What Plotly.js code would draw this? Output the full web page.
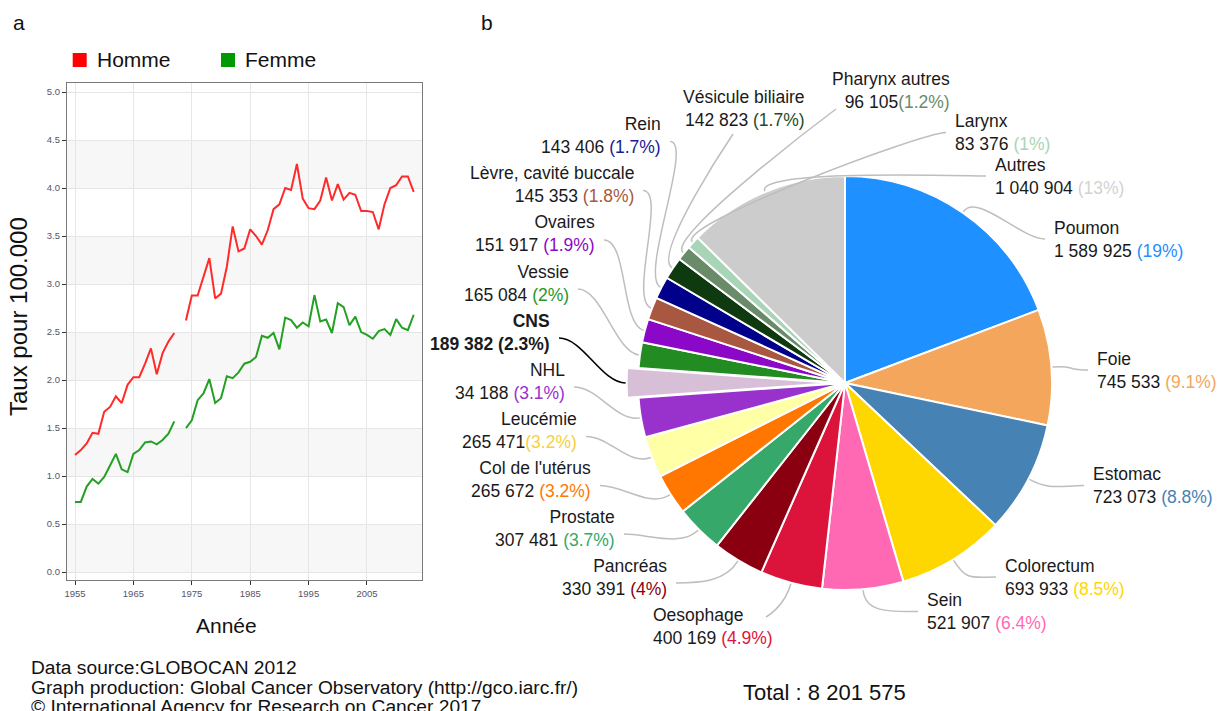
<!DOCTYPE html>
<html>
<head>
<meta charset="utf-8">
<script src="https://cdn.plot.ly/plotly-3.0.1.min.js"></script>
<style>html,body{margin:0;padding:0;background:#fff;}#chart{width:1219px;height:711px;}</style>
</head>
<body>
<div id="chart"></div>
<script>
// ---------------- DATA ----------------
const years = [1955,1956,1957,1958,1959,1960,1961,1962,1963,1964,1965,1966,1967,1968,1969,1970,1971,1972,1973,1974,1975,1976,1977,1978,1979,1980,1981,1982,1983,1984,1985,1986,1987,1988,1989,1990,1991,1992,1993,1994,1995,1996,1997,1998,1999,2000,2001,2002,2003,2004,2005,2006,2007,2008,2009,2010,2011,2012,2013];
const homme = [1.22,1.27,1.34,1.45,1.44,1.67,1.72,1.83,1.76,1.95,2.03,2.03,2.17,2.33,2.06,2.28,2.40,2.49,null,2.62,2.88,2.88,3.08,3.27,2.85,2.90,3.18,3.60,3.34,3.37,3.57,3.50,3.41,3.56,3.78,3.83,4.00,3.98,4.25,3.89,3.79,3.78,3.87,4.11,3.87,4.04,3.88,3.95,3.93,3.76,3.76,3.75,3.57,3.83,4.00,4.03,4.12,4.12,3.96];
const femme = [0.73,0.73,0.89,0.97,0.92,0.99,1.11,1.23,1.07,1.04,1.23,1.27,1.35,1.36,1.33,1.375,1.44,1.57,null,1.50,1.58,1.79,1.86,2.01,1.76,1.81,2.04,2.02,2.08,2.17,2.19,2.24,2.46,2.44,2.49,2.32,2.65,2.625,2.545,2.60,2.56,2.885,2.61,2.63,2.49,2.80,2.76,2.57,2.66,2.50,2.47,2.43,2.51,2.53,2.47,2.635,2.545,2.52,2.68];
const yTicks = [0,0.5,1,1.5,2,2.5,3,3.5,4,4.5,5];
const xTicks = [1955,1965,1975,1985,1995,2005];
const seriesNames = ['Homme','Femme'];

const sites = ['Poumon','Foie','Estomac','Colorectum','Sein','Oesophage','Pancréas','Prostate',"Col de l'utérus",'Leucémie','NHL','CNS','Vessie','Ovaires','Lèvre, cavité buccale','Rein','Vésicule biliaire','Pharynx autres','Larynx','Autres'];
// NHL count printed as "34 188" in the source; slice sized from its 3.1 % share
const counts = [1589925,745533,723073,693933,521907,400169,330391,307481,265672,265471,254188,189382,165084,151917,145353,143406,142823,96105,83376,1040904];
const countText = ['1 589 925','745 533','723 073','693 933','521 907','400 169','330 391','307 481','265 672','265 471','34 188','189 382','165 084','151 917','145 353','143 406','142 823','96 105','83 376','1 040 904'];
const pctText = ['(19%)','(9.1%)','(8.8%)','(8.5%)','(6.4%)','(4.9%)','(4%)','(3.7%)','(3.2%)','(3.2%)','(3.1%)','(2.3%)','(2%)','(1.9%)','(1.8%)','(1.7%)','(1.7%)','(1.2%)','(1%)','(13%)'];
const pctSpace = [' ',' ',' ',' ',' ',' ',' ',' ',' ','',' ',' ',' ',' ',' ',' ',' ','',' ',' '];
const totalText = 'Total : 8 201 575';
const highlighted = 'CNS';

// ---------------- STYLE ----------------
const W = 1219, H = 711;
const FONT = 'Liberation Sans, Arial, Helvetica, sans-serif';
const sliceColors = ['#1E90FF','#F4A65C','#4682B4','#FFD700','#FF69B4','#DC143C','#8B0010','#36A86A','#FF7700','#FFFFA6','#9932CC','#D8BFD8','#228B22','#8B08C8','#A85840','#00008B','#0F3A0F','#6A8B6A','#A8D5B8','#CCCCCC'];
const pctColors = ['#1E90FF','#F4A65C','#4682B4','#FFD700','#FF69B4','#DC143C','#8B0010','#36A86A','#FF7700','#F5D040','#9932CC','#111111','#2A962A','#8B08C8','#A85840','#1A1A99','#1E4D1E','#6A8B6A','#A8D5B8','#D3D3D3'];
// label anchor positions in pixels (edge x, block centre y, side of the pie)
const labelPos = [
  {x:1052,y:239,s:'L'},{x:1095,y:370,s:'L'},{x:1091,y:485.5,s:'L'},{x:1003,y:577,s:'L'},
  {x:925,y:611.5,s:'L'},{x:651,y:626,s:'L',end:[766,617]},{x:669,y:577,s:'R'},{x:617,y:528,s:'R'},
  {x:593,y:479.5,s:'R'},{x:579,y:430.5,s:'R'},{x:567,y:381,s:'R'},{x:552,y:332,s:'R'},
  {x:571,y:283,s:'R'},{x:597,y:234,s:'R'},{x:636,y:184.5,s:'R'},{x:663,y:135.5,s:'R'},
  {x:807,y:108,s:'R',end:[733,134]},{x:952,y:90.5,s:'R',end:[836,109]},{x:953,y:132.5,s:'L'},{x:993,y:176,s:'L'}
];
const CX = 845, CY = 383, R = 207, PULL = 0.055;
const px = x => x / W;
const py = y => 1 - y / H;

// ---------------- LEFT PANEL ----------------
const lineColors = ['#FF2A2A','#23A023'];
const legendColors = ['#FF0000','#009A00'];
const traces = [
  {type:'scatter',mode:'lines',x:years,y:homme,name:seriesNames[0],connectgaps:false,line:{color:lineColors[0],width:2},hoverinfo:'x+y',showlegend:false},
  {type:'scatter',mode:'lines',x:years,y:femme,name:seriesNames[1],connectgaps:false,line:{color:lineColors[1],width:2},hoverinfo:'x+y',showlegend:false}
];

// ---------------- PIE ----------------
const pulls = sites.map(s => s === highlighted ? PULL : 0);
const half = R * (1 + PULL);
traces.push({
  type:'pie', values:counts, labels:sites, sort:false, direction:'clockwise', rotation:0,
  pull:pulls, textinfo:'none', hoverinfo:'label+value', showlegend:false,
  marker:{colors:sliceColors, line:{color:'#ffffff', width:2}},
  domain:{x:[px(CX-half), px(CX+half)], y:[py(CY+half), py(CY-half)]}
});

const shapes = [];
const annotations = [];

// alternating background bands
for (let k = 0; k + 1 < yTicks.length; k += 2) {
  shapes.push({type:'rect',xref:'x domain',yref:'y',x0:0,x1:1,y0:yTicks[k],y1:yTicks[k+1],fillcolor:'#F7F7F7',line:{width:0},layer:'below'});
}

// legend
const legX = [72.7, 221];
seriesNames.forEach((n,i) => {
  shapes.push({type:'rect',xref:'paper',yref:'paper',x0:px(legX[i]),x1:px(legX[i]+14),y0:py(67),y1:py(53),fillcolor:legendColors[i],line:{width:0}});
  annotations.push({xref:'paper',yref:'paper',x:px(legX[i]+22),y:py(60),xanchor:'left',yanchor:'middle',showarrow:false,text:n,font:{family:FONT,size:21,color:'#111'}});
});

// panel letters and titles
annotations.push({xref:'paper',yref:'paper',x:px(11),y:py(22),xanchor:'left',yanchor:'middle',showarrow:false,text:'a',font:{family:FONT,size:21,color:'#111'}});
annotations.push({xref:'paper',yref:'paper',x:px(479),y:py(22),xanchor:'left',yanchor:'middle',showarrow:false,text:'b',font:{family:FONT,size:21,color:'#111'}});
annotations.push({xref:'paper',yref:'paper',x:px(18),y:py(317),xanchor:'center',yanchor:'middle',textangle:-90,showarrow:false,text:'Taux pour 100.000',font:{family:FONT,size:24,color:'#111'}});
annotations.push({xref:'paper',yref:'paper',x:px(226),y:py(625),xanchor:'center',yanchor:'middle',showarrow:false,text:'Année',font:{family:FONT,size:21,color:'#111'}});

// footer
const footer = ['Data source:GLOBOCAN 2012','Graph production: Global Cancer Observatory (http://gco.iarc.fr/)','© International Agency for Research on Cancer 2017'];
const footY = [667, 687, 706];
footer.forEach((t,i) => annotations.push({xref:'paper',yref:'paper',x:px(29),y:py(footY[i]),xanchor:'left',yanchor:'middle',showarrow:false,text:t,font:{family:FONT,size:19.2,color:'#111'}}));
annotations.push({xref:'paper',yref:'paper',x:px(824),y:py(692),xanchor:'center',yanchor:'middle',showarrow:false,text:totalText,font:{family:FONT,size:22,color:'#111'}});

// pie labels + leader lines
const total = counts.reduce((a,b)=>a+b,0);
let cum = 0;
counts.forEach((v,i) => {
  const th = 2*Math.PI*(cum + v/2)/total;
  cum += v;
  const ux = Math.sin(th), uy = -Math.cos(th);
  const rr = R*(1+pulls[i]) + 1;
  const E = [CX + rr*ux, CY + rr*uy];
  const lp = labelPos[i];
  const dir = lp.s === 'L' ? 1 : -1;
  const L = lp.end ? lp.end : (lp.s === 'L' ? [lp.x-7, lp.y] : [lp.x+7, lp.y+6]);
  const c1 = [E[0]+24*ux, E[1]+24*uy];
  const c2 = lp.end ? [L[0], L[1]] : [L[0]-24*dir, L[1]];
  shapes.push({type:'path',xref:'paper',yref:'paper',
    path:`M ${px(E[0])},${py(E[1])} C ${px(c1[0])},${py(c1[1])} ${px(c2[0])},${py(c2[1])} ${px(L[0])},${py(L[1])}`,
    line:{color: sites[i]===highlighted ? '#000000' : '#BEBEBE', width: sites[i]===highlighted ? 1.6 : 1.5}, layer:'above'});
  const isHi = sites[i] === highlighted;
  const txt = isHi
    ? `<b>${sites[i]}</b><br><b>${countText[i]}${pctSpace[i]}${pctText[i]}</b>`
    : `${sites[i]}<br>${countText[i]}${pctSpace[i]}<span style="color:${pctColors[i]}">${pctText[i]}</span>`;
  annotations.push({xref:'paper',yref:'paper',x:px(lp.x),y:py(lp.y),xanchor: lp.s==='L'?'left':'right',yanchor:'middle',
    align: lp.s==='L'?'left':'right', showarrow:false, text:txt, font:{family:FONT,size:17.5,color:'#1a1a1a'}});
});

const layout = {
  width:W, height:H, margin:{l:0,r:0,t:0,b:0}, paper_bgcolor:'#ffffff', plot_bgcolor:'#ffffff',
  showlegend:false, font:{family:FONT},
  xaxis:{domain:[px(67), px(422)], range:[1953.63, 2014.42], tickvals:xTicks, ticks:'outside', ticklen:4, tickcolor:'#333',
    showgrid:true, gridcolor:'#E6E6E6', gridwidth:1, zeroline:false, showline:true, mirror:true, linecolor:'#7a7a7a', linewidth:1.3,
    tickfont:{family:FONT,size:9.5,color:'#55556a'}, fixedrange:true},
  yaxis:{domain:[py(580), py(83)], range:[-0.083, 5.094], tickvals:yTicks, tickformat:'.1f', ticks:'outside', ticklen:4, tickcolor:'#333',
    showgrid:true, gridcolor:'#E6E6E6', gridwidth:1, zeroline:false, showline:true, mirror:true, linecolor:'#7a7a7a', linewidth:1.3,
    tickfont:{family:FONT,size:9.5,color:'#55556a'}, fixedrange:true},
  shapes:shapes, annotations:annotations
};

Plotly.newPlot('chart', traces, layout, {displayModeBar:false});
</script>
</body>
</html>
